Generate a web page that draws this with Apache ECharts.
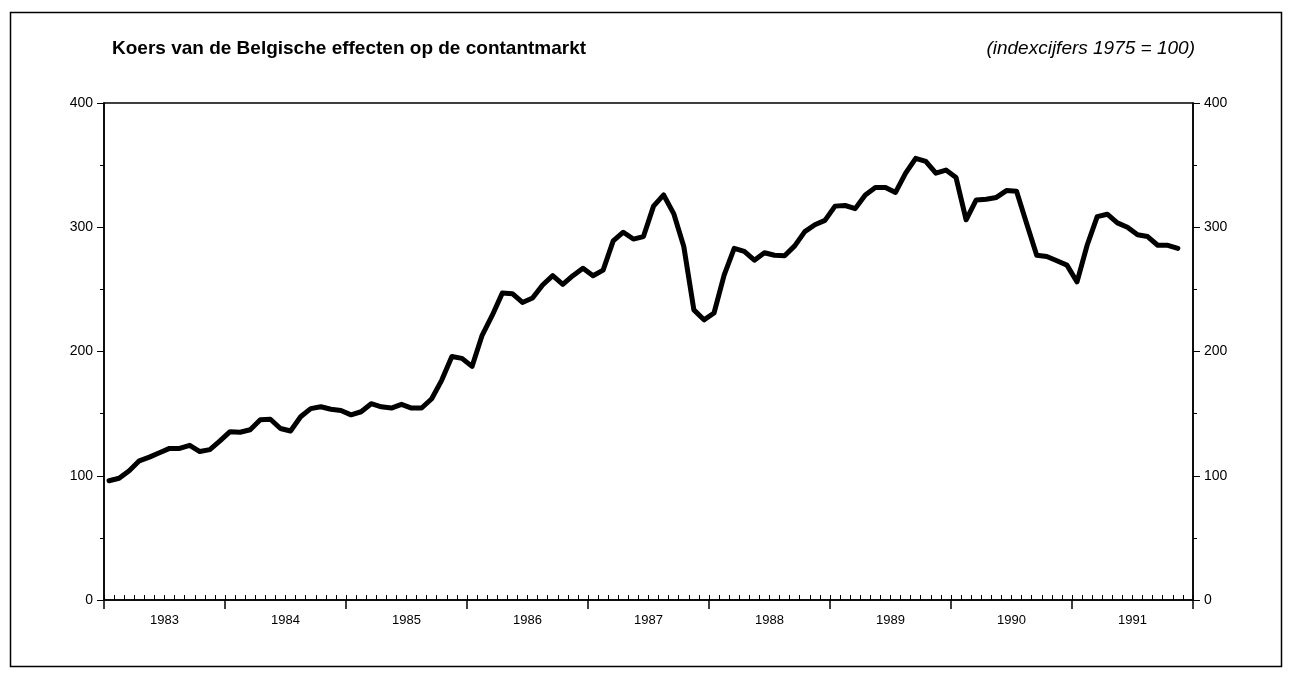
<!DOCTYPE html>
<html>
<head>
<meta charset="utf-8">
<script src="https://cdn.jsdelivr.net/npm/echarts@6/dist/echarts.min.js"></script>
<style>
  html, body { margin: 0; padding: 0; background: #fff; }
  #chart { width: 1292px; height: 677px; }
</style>
</head>
<body>
<div id="chart"></div>
<script>
// jaren op de x-as
const years = ['1983', '1984', '1985', '1986', '1987', '1988', '1989', '1990', '1991'];
const monthNames = ['jan', 'feb', 'mrt', 'apr', 'mei', 'jun', 'jul', 'aug', 'sep', 'okt', 'nov', 'dec'];

// maandelijkse indexcijfers (1975 = 100)
const v1983 = [96, 98, 104, 112, 115, 118.5, 122, 122, 124.5, 119.5, 121, 128];
const v1984 = [135.5, 135, 137, 145, 145.5, 138, 136, 147.5, 154, 155.5, 153.5, 152.5];
const v1985 = [149, 151.5, 158, 155.5, 154.5, 157.5, 154.5, 154.5, 162, 177, 196, 194.5];
const v1986 = [188, 213, 229, 247, 246.5, 239.5, 243, 253.5, 261, 254, 261, 267];
const v1987 = [261, 265.5, 289, 296, 290.5, 292.5, 317, 326, 311, 284.5, 233.5, 225.5];
const v1988 = [231, 261.5, 283, 280.5, 273.5, 279.5, 277.5, 277, 285, 296.5, 302, 305.5];
const v1989 = [317, 317.5, 315, 326, 332, 332, 328, 343.5, 355.5, 353, 343.5, 346];
const v1990 = [340, 306, 322, 322.5, 324, 329.5, 329, 303, 277.5, 276.5, 273, 269.5];
const v1991 = [256, 285.5, 308.5, 310.5, 303.5, 300, 294, 292.5, 285.5, 285.5, 283];

const yTicks = [0, 100, 200, 300, 400];

const months = [];
years.forEach(y => monthNames.forEach(m => months.push(m + ' ' + y)));
const values = [].concat(v1983, v1984, v1985, v1986, v1987, v1988, v1989, v1990, v1991);

const FONT = '"Liberation Sans", Arial, Helvetica, sans-serif';

const yAxisBase = {
  type: 'value',
  min: yTicks[0],
  max: yTicks[yTicks.length - 1],
  interval: 100,
  axisLine: { show: true, lineStyle: { color: '#000', width: 1.5 } },
  axisTick: { show: true, length: 7, lineStyle: { color: '#000', width: 1 } },
  minorTick: { show: true, splitNumber: 2, length: 4, lineStyle: { color: '#000', width: 1 } },
  splitLine: { show: false },
  axisLabel: { color: '#000', fontFamily: FONT, fontSize: 14, margin: 11 }
};

let chart = echarts.init(document.getElementById('chart'));
chart.setOption({
  backgroundColor: '#fff',
  animation: false,
  grid: {
    left: 104, right: 99, top: 103, bottom: 77,
    show: true, borderColor: '#000', borderWidth: 1.5
  },
  title: [
    {
      text: 'Koers van de Belgische effecten op de contantmarkt',
      left: 107, top: 34,
      textStyle: { fontFamily: FONT, fontSize: 19, fontWeight: 'bold', color: '#000' }
    },
    {
      text: '(indexcijfers 1975 = 100)',
      right: 92, top: 34,
      textStyle: { fontFamily: FONT, fontSize: 19, fontStyle: 'italic', fontWeight: 'normal', color: '#000' }
    }
  ],
  graphic: [{
    type: 'rect',
    shape: { x: 10.5, y: 12.5, width: 1271, height: 654 },
    style: { fill: 'none', stroke: '#000', lineWidth: 1.5 },
    silent: true
  }],
  xAxis: [
    {
      type: 'category',
      data: months,
      boundaryGap: true,
      axisLine: { show: true, lineStyle: { color: '#000', width: 1.5 } },
      axisTick: { show: true, inside: true, interval: 0, length: 5, lineStyle: { color: '#000', width: 1 } },
      axisLabel: { show: false },
      splitLine: { show: false }
    },
    {
      type: 'category',
      data: years,
      position: 'bottom',
      boundaryGap: true,
      axisLine: { show: false },
      axisTick: { show: true, interval: 0, length: 9, lineStyle: { color: '#000', width: 1.5 } },
      axisLabel: { interval: 0, color: '#000', fontFamily: FONT, fontSize: 13, margin: 14 },
      splitLine: { show: false }
    }
  ],
  yAxis: [
    Object.assign({}, yAxisBase, { position: 'left' }),
    Object.assign({}, yAxisBase, { position: 'right' })
  ],
  series: [{
    type: 'line',
    xAxisIndex: 0,
    yAxisIndex: 0,
    data: values,
    showSymbol: false,
    symbol: 'none',
    lineStyle: { color: '#000', width: 5, join: 'round', cap: 'round' }
  }]
});
</script>
</body>
</html>
